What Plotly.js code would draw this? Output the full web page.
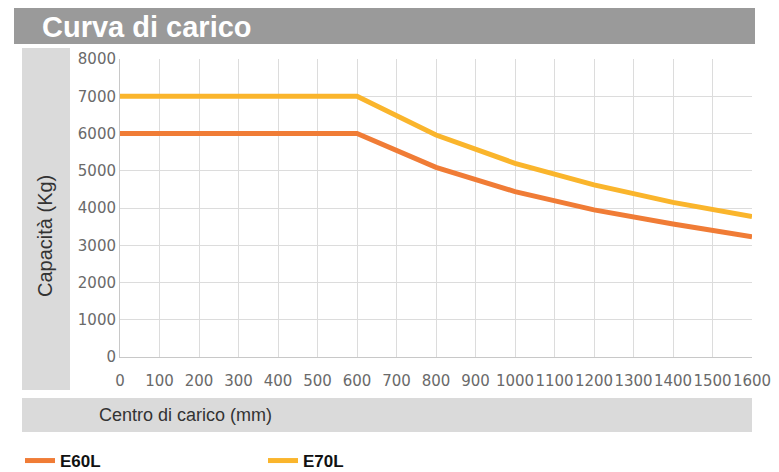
<!DOCTYPE html>
<html><head><meta charset="utf-8">
<script src="https://cdn.plot.ly/plotly-3.0.1.min.js"></script>
<style>html,body{margin:0;padding:0;background:#fff;}#chart{width:779px;height:472px;}</style>
</head><body><div id="chart"></div>
<script>
const centers = [0, 600, 800, 1000, 1200, 1400, 1600];
const e60L = [6000, 6000, 5090, 4440, 3950, 3570, 3230];
const e70L = [7000, 7000, 5960, 5200, 4620, 4150, 3770];
const seriesNames = ['E60L', 'E70L'];
const xTicks = [0,100,200,300,400,500,600,700,800,900,1000,1100,1200,1300,1400,1500,1600];
const yTicks = [0,1000,2000,3000,4000,5000,6000,7000,8000];

const W = 779, H = 472, L = 120, R = 27, T = 59, B = 115;
const px = v => (v - L) / (W - L - R);
const py = v => (H - B - v) / (H - T - B);

const traces = [
  {x: centers, y: e60L, name: seriesNames[0], mode: 'lines', line: {color: '#f07c36', width: 5}},
  {x: centers, y: e70L, name: seriesNames[1], mode: 'lines', line: {color: '#fab52c', width: 5}}
];

const tickFont = {family: 'DejaVu Sans, sans-serif', size: 15, color: '#6a6a6a'};

const layout = {
  width: W, height: H,
  margin: {l: L, r: R, t: T, b: B, pad: 0, autoexpand: false},
  paper_bgcolor: '#ffffff', plot_bgcolor: '#ffffff',
  font: {family: 'Liberation Sans, Arial, sans-serif', color: '#333'},
  xaxis: {
    range: [0, 1600], tickvals: xTicks, ticktext: xTicks.map(String),
    showgrid: true, gridcolor: '#dcdcdc', gridwidth: 1,
    showline: true, linecolor: '#c8c8c8', zeroline: false,
    ticks: '', tickfont: tickFont, ticklabelstandoff: 10, tickangle: 0,
    automargin: false, fixedrange: true
  },
  yaxis: {
    range: [0, 8000], tickvals: yTicks, ticktext: yTicks.map(String),
    showgrid: true, gridcolor: '#dcdcdc', gridwidth: 1,
    showline: true, linecolor: '#c8c8c8', zeroline: false,
    ticks: '', tickfont: tickFont, ticklabelstandoff: 0,
    automargin: false, fixedrange: true
  },
  showlegend: true,
  legend: {
    orientation: 'h', x: px(20), y: py(461), xanchor: 'left', yanchor: 'middle',
    font: {family: 'Liberation Sans Narrow, Liberation Sans, sans-serif', size: 17, color: '#111', weight: 'bold'},
    entrywidth: 198, entrywidthmode: 'pixels', itemwidth: 30, bgcolor: 'rgba(0,0,0,0)'
  },
  shapes: [
    {type: 'rect', xref: 'paper', yref: 'paper', x0: px(14), x1: px(755), y0: py(44), y1: py(8), fillcolor: '#9a9a9a', line: {width: 0}, layer: 'below'},
    {type: 'rect', xref: 'paper', yref: 'paper', x0: px(22), x1: px(70), y0: py(390), y1: py(48), fillcolor: '#dadada', line: {width: 0}, layer: 'below'},
    {type: 'rect', xref: 'paper', yref: 'paper', x0: px(22), x1: px(752), y0: py(432), y1: py(398), fillcolor: '#dadada', line: {width: 0}, layer: 'below'}
  ],
  annotations: [
    {text: 'Curva di carico', xref: 'paper', yref: 'paper', x: px(40), y: py(27), xanchor: 'left', yanchor: 'middle', showarrow: false,
     font: {family: 'Liberation Sans Narrow, Liberation Sans, sans-serif', size: 29, color: '#ffffff', weight: 'bold'}},
    {text: 'Capacità (Kg)', xref: 'paper', yref: 'paper', x: px(45), y: py(236), xanchor: 'center', yanchor: 'middle', textangle: -90, showarrow: false,
     font: {family: 'Liberation Sans, Arial, sans-serif', size: 20, color: '#333'}},
    {text: 'Centro di carico (mm)', xref: 'paper', yref: 'paper', x: px(97), y: py(415), xanchor: 'left', yanchor: 'middle', showarrow: false,
     font: {family: 'Liberation Sans, Arial, sans-serif', size: 18, color: '#333'}}
  ]
};

Plotly.newPlot('chart', traces, layout, {displayModeBar: false, staticPlot: true});
</script>
</body></html>
